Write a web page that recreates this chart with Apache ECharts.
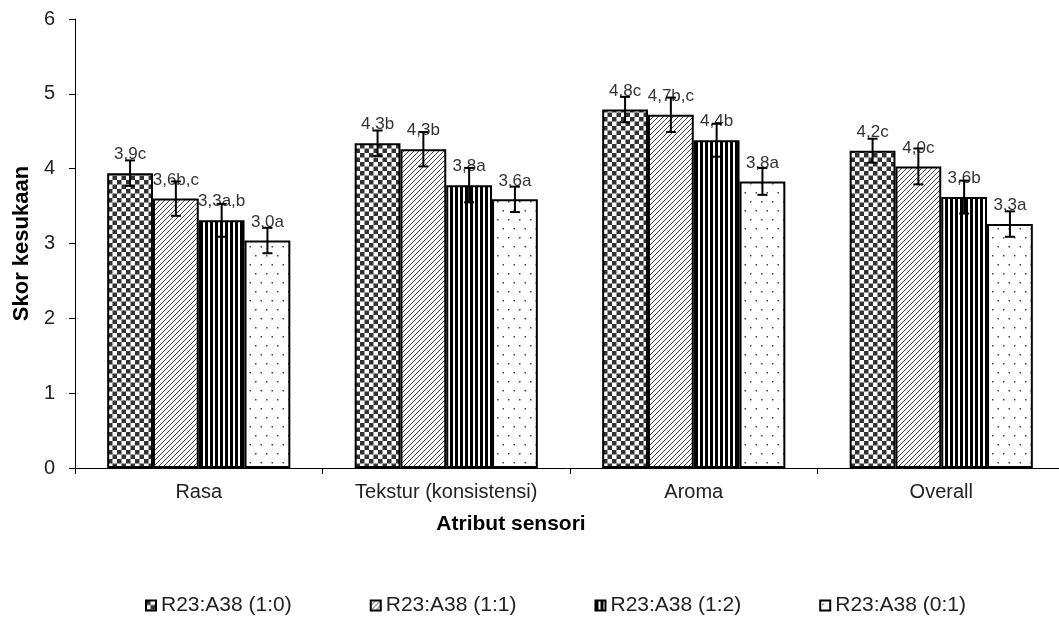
<!DOCTYPE html>
<html>
<head>
<meta charset="utf-8">
<title>Skor kesukaan per atribut sensori</title>
<script src="https://cdn.jsdelivr.net/npm/echarts@6/dist/echarts.min.js"></script>
<style>
  html, body { margin: 0; padding: 0; background: #fff; }
  #chart { width: 1059px; height: 619px; }
</style>
</head>
<body>
<div id="chart"></div>
<script>
// Sensory attributes on the x axis
const categories = ['Rasa', 'Tekstur (konsistensi)', 'Aroma', 'Overall'];

// Treatment names (legend)
const seriesNames = ['R23:A38 (1:0)', 'R23:A38 (1:1)', 'R23:A38 (1:2)', 'R23:A38 (0:1)'];

// Mean hedonic scores per treatment, one value per attribute
const score10 = [3.94, 4.34, 4.79, 4.24];
const score11 = [3.60, 4.26, 4.72, 4.03];
const score12 = [3.31, 3.78, 4.38, 3.62];
const score01 = [3.04, 3.59, 3.83, 3.26];

// Standard deviations for the error bars
const sd10 = [0.17, 0.17, 0.17, 0.16];
const sd11 = [0.23, 0.23, 0.23, 0.24];
const sd12 = [0.22, 0.23, 0.22, 0.22];
const sd01 = [0.17, 0.17, 0.18, 0.17];

// Significance letters shown after each mean
const sig10 = ['c', 'b', 'c', 'c'];
const sig11 = ['b,c', 'b', 'b,c', 'c'];
const sig12 = ['a,b', 'a', 'b', 'b'];
const sig01 = ['a', 'a', 'a', 'a'];

// Y axis ticks
const yTicks = [0, 1, 2, 3, 4, 5, 6];

const scores = [score10, score11, score12, score01];
const sds = [sd10, sd11, sd12, sd01];
const sigs = [sig10, sig11, sig12, sig01];

const FONT = "'Liberation Sans', Arial, sans-serif";
const CAT_GAP = 0.26;           // fraction of each category left empty
const N = scores.length;

// ---- fill patterns -------------------------------------------------------
function tile(w, h, draw) {
  const c = document.createElement('canvas');
  c.width = w; c.height = h;
  const ctx = c.getContext('2d');
  ctx.fillStyle = '#ffffff';
  ctx.fillRect(0, 0, w, h);
  draw(ctx);
  return { image: c, repeat: 'repeat' };
}

const patterns = [
  // checkerboard
  tile(9, 9, ctx => {
    ctx.fillStyle = '#333333';
    ctx.fillRect(0, 0, 4.5, 4.5);
    ctx.fillRect(4.5, 4.5, 4.5, 4.5);
  }),
  // forward diagonal hatching
  tile(5, 5, ctx => {
    ctx.strokeStyle = '#444444';
    ctx.lineWidth = 1;
    ctx.beginPath();
    ctx.moveTo(-1, 6); ctx.lineTo(6, -1);
    ctx.moveTo(-1, 1); ctx.lineTo(1, -1);
    ctx.moveTo(4, 6); ctx.lineTo(6, 4);
    ctx.stroke();
  }),
  // vertical stripes
  tile(5, 4, ctx => {
    ctx.fillStyle = '#000000';
    ctx.fillRect(0, 0, 3, 4);
  }),
  // sparse dots
  tile(11, 18, ctx => {
    ctx.fillStyle = '#444444';
    ctx.fillRect(2, 3, 1.5, 1.5);
    ctx.fillRect(7.5, 12, 1.5, 1.5);
  })
];

// ---- series --------------------------------------------------------------
const barSeries = scores.map((vals, i) => ({
  name: seriesNames[i],
  type: 'bar',
  data: vals,
  barGap: '0%',
  barCategoryGap: (CAT_GAP * 100) + '%',
  itemStyle: { color: patterns[i], borderColor: '#000', borderWidth: 2 },
  label: {
    show: true,
    position: 'top',
    distance: 10,
    fontFamily: FONT,
    fontSize: 17,
    color: '#333',
    formatter: p => p.value.toFixed(1).replace('.', ',') + sigs[i][p.dataIndex]
  },
  emphasis: { disabled: true },
  z: 2
}));

const errSeries = scores.map((vals, i) => ({
  name: seriesNames[i] + ' sd',
  type: 'custom',
  data: vals.map((v, k) => [k, v, sds[i][k]]),
  z: 5,
  silent: true,
  renderItem: (params, api) => {
    const k = api.value(0), m = api.value(1), s = api.value(2);
    const band = api.size([1, 0])[0];
    const bw = band * (1 - CAT_GAP) / N;
    const c = api.coord([k, m]);
    const x = c[0] + (i - (N - 1) / 2) * bw;
    const yTop = api.coord([k, m + s])[1];
    const yBot = api.coord([k, m - s])[1];
    const cap = 5;
    const st = { stroke: '#000', lineWidth: 2, fill: null };
    return {
      type: 'group',
      children: [
        { type: 'line', shape: { x1: x, y1: yTop, x2: x, y2: yBot }, style: st },
        { type: 'line', shape: { x1: x - cap, y1: yTop, x2: x + cap, y2: yTop }, style: st },
        { type: 'line', shape: { x1: x - cap, y1: yBot, x2: x + cap, y2: yBot }, style: st }
      ]
    };
  }
}));

const chart = echarts.init(document.getElementById('chart'), null, { renderer: 'canvas' });

chart.setOption({
  animation: false,
  backgroundColor: '#ffffff',
  textStyle: { fontFamily: FONT },
  grid: { left: 75, top: 19, width: 990, height: 449, containLabel: false, outerBoundsMode: 'none' },
  legend: {
    data: seriesNames,
    left: 140,
    top: 590,
    itemWidth: 10,
    itemHeight: 10,
    itemGap: 78,
    icon: 'rect',
    itemStyle: { borderColor: '#000', borderWidth: 2 },
    textStyle: { fontFamily: FONT, fontSize: 21, color: '#222' },
    selectedMode: false
  },
  xAxis: {
    type: 'category',
    data: categories,
    name: 'Atribut sensori',
    nameLocation: 'middle',
    nameGap: 46,
    nameTextStyle: {
      fontFamily: FONT, fontSize: 21, fontWeight: 'bold', color: '#000',
      padding: [0, 118, 0, 0]
    },
    axisLine: { lineStyle: { color: '#000', width: 1 } },
    axisTick: { show: true, length: 6, lineStyle: { color: '#000' } },
    axisLabel: { fontFamily: FONT, fontSize: 20, color: '#222', margin: 14 },
    splitLine: { show: false }
  },
  yAxis: {
    type: 'value',
    min: yTicks[0],
    max: yTicks[yTicks.length - 1],
    interval: 1,
    name: 'Skor kesukaan',
    nameLocation: 'middle',
    nameGap: 42,
    nameRotate: 90,
    nameTextStyle: { fontFamily: FONT, fontSize: 22, fontWeight: 'bold', color: '#000' },
    axisLine: { show: true, lineStyle: { color: '#000', width: 1 } },
    axisTick: { show: true, length: 6, lineStyle: { color: '#000' } },
    axisLabel: { fontFamily: FONT, fontSize: 20, color: '#222', margin: 20 },
    splitLine: { show: false }
  },
  series: [...barSeries, ...errSeries]
});
</script>
</body>
</html>
